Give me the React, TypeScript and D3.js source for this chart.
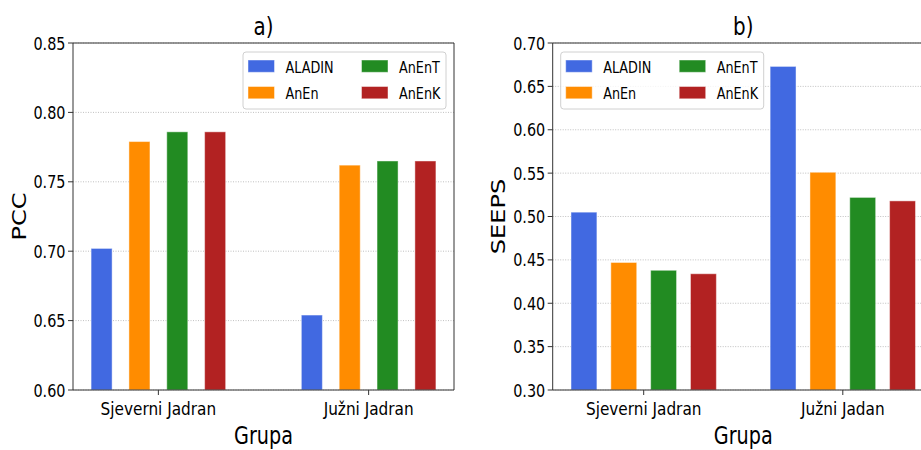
import React from "react";
import * as d3 from "d3";

const groups = ["Sjeverni Jadran", "Južni Jadran"];
const groupsB = ["Sjeverni Jadran", "Južni Jadan"];
const models = ["ALADIN", "AnEn", "AnEnT", "AnEnK"];
const colors = ["#4169E1", "#FF8C00", "#228B22", "#B22222"];

const pccALADIN = [0.702, 0.654];
const pccAnEn = [0.779, 0.762];
const pccAnEnT = [0.786, 0.765];
const pccAnEnK = [0.786, 0.765];

const seepsALADIN = [0.505, 0.673];
const seepsAnEn = [0.447, 0.551];
const seepsAnEnT = [0.438, 0.522];
const seepsAnEnK = [0.434, 0.518];

const pccTicks = [0.6, 0.65, 0.7, 0.75, 0.8, 0.85];
const seepsTicks = [0.3, 0.35, 0.4, 0.45, 0.5, 0.55, 0.6, 0.65, 0.7];

const FONT = "DejaVu Sans";

function T({ x, y, sx = 0.8, sy = 1, size, anchor = "middle", rotate = 0, children }: any) {
  const tr = `translate(${x},${y})${rotate ? ` rotate(${rotate})` : ""} scale(${sx},${sy})`;
  return (
    <text transform={tr} fontFamily={FONT} fontSize={size} textAnchor={anchor} fill="#000">
      {children}
    </text>
  );
}

function Panel({ series, cats, ticks, yDomain, xDomain, xRange, pitch, width, title, ylabel, ylabelX, legendX, rightSpine, fmt }: any) {
  const top = 43, bottom = 390;
  const x = d3.scaleLinear().domain(xDomain).range(xRange);
  const y = d3.scaleLinear().domain(yDomain).range([bottom, top]);
  const left = xRange[0], right = xRange[1];
  const cx = (left + right) / 2;
  const offsets = [-1.5, -0.5, 0.5, 1.5];
  return (
    <g>
      {ticks.map((t: number) => (
        <line key={"g" + t} x1={left} x2={Math.min(right, 921)} y1={y(t)} y2={y(t)} stroke="#b0b0b0" strokeWidth={0.8} strokeDasharray="1,1.5" />
      ))}
      {series.map((vals: number[], si: number) =>
        vals.map((v, gi) => {
          const c = gi + offsets[si] * pitch;
          const x0 = x(c - width / 2), x1 = x(c + width / 2);
          return (
            <rect key={si + "-" + gi} x={x0} y={y(v)} width={x1 - x0} height={bottom - y(v)} fill={colors[si]} stroke="#ffffff" strokeOpacity={0.45} strokeWidth={1} />
          );
        })
      )}
      <line x1={left} x2={left} y1={top} y2={bottom} stroke="#333" strokeWidth={1} />
      <line x1={left} x2={right} y1={bottom} y2={bottom} stroke="#333" strokeWidth={1} />
      <line x1={left} x2={right} y1={top} y2={top} stroke="#333" strokeWidth={1} />
      {rightSpine && <line x1={right} x2={right} y1={top} y2={bottom} stroke="#333" strokeWidth={1} />}
      {ticks.map((t: number) => (
        <g key={"t" + t}>
          <line x1={left - 5} x2={left} y1={y(t)} y2={y(t)} stroke="#333" strokeWidth={1} />
          <T x={left - 7.5} y={y(t) + 6.6} size={18} anchor="end" sx={0.8}>{fmt(t)}</T>
        </g>
      ))}
      {cats.map((c: string, i: number) => (
        <g key={c}>
          <line x1={x(i)} x2={x(i)} y1={bottom} y2={bottom + 5} stroke="#333" strokeWidth={1} />
          <T x={x(i)} y={415} size={18} sx={0.85}>{c}</T>
        </g>
      ))}
      <T x={cx} y={444} size={24} sx={0.8}>Grupa</T>
      <T x={cx} y={35} size={24} sx={0.83}>{title}</T>
      <T x={ylabelX} y={(top + bottom) / 2} size={24} sx={1} sy={0.84} rotate={-90}>{ylabel}</T>
      <g transform={`translate(${legendX},52)`}>
        <rect x={0} y={0} width={203} height={57} rx={3} fill="#fff" fillOpacity={0.8} stroke="#d0d0d0" strokeWidth={1} />
        {models.map((m, i) => {
          const col = Math.floor(i / 2), row = i % 2;
          const px = 5 + col * 113.5;
          const py = 8 + row * 26.5;
          return (
            <g key={m}>
              <rect x={px} y={py} width={26.5} height={12.3} fill={colors[i]} stroke="#ffffff" strokeOpacity={0.45} />
              <T x={px + 37.5} y={py + 12.5} size={16} anchor="start" sx={0.8}>{m}</T>
            </g>
          );
        })}
      </g>
    </g>
  );
}

export default function App() {
  return (
    <svg width={921} height={450} style={{ position: "absolute", left: 0, top: 0, background: "#fff" }}>
      <rect width={921} height={450} fill="#fff" />
      <Panel
        series={[pccALADIN, pccAnEn, pccAnEnT, pccAnEnK]}
        cats={groups}
        ticks={pccTicks}
        yDomain={[0.6, 0.85]}
        xDomain={[-0.406, 1.406]}
        xRange={[73, 454]}
        pitch={0.18}
        width={0.1}
        title="a)"
        ylabel="PCC"
        ylabelX={26}
        legendX={243}
        rightSpine={true}
        fmt={(t: number) => t.toFixed(2)}
      />
      <Panel
        series={[seepsALADIN, seepsAnEn, seepsAnEnT, seepsAnEnK]}
        cats={groupsB}
        ticks={seepsTicks}
        yDomain={[0.3, 0.7]}
        xDomain={[-0.457, 1.457]}
        xRange={[552.7, 933.8]}
        pitch={0.2}
        width={0.13}
        title="b)"
        ylabel="SEEPS"
        ylabelX={505}
        legendX={560.7}
        rightSpine={false}
        fmt={(t: number) => t.toFixed(2)}
      />
    </svg>
  );
}
